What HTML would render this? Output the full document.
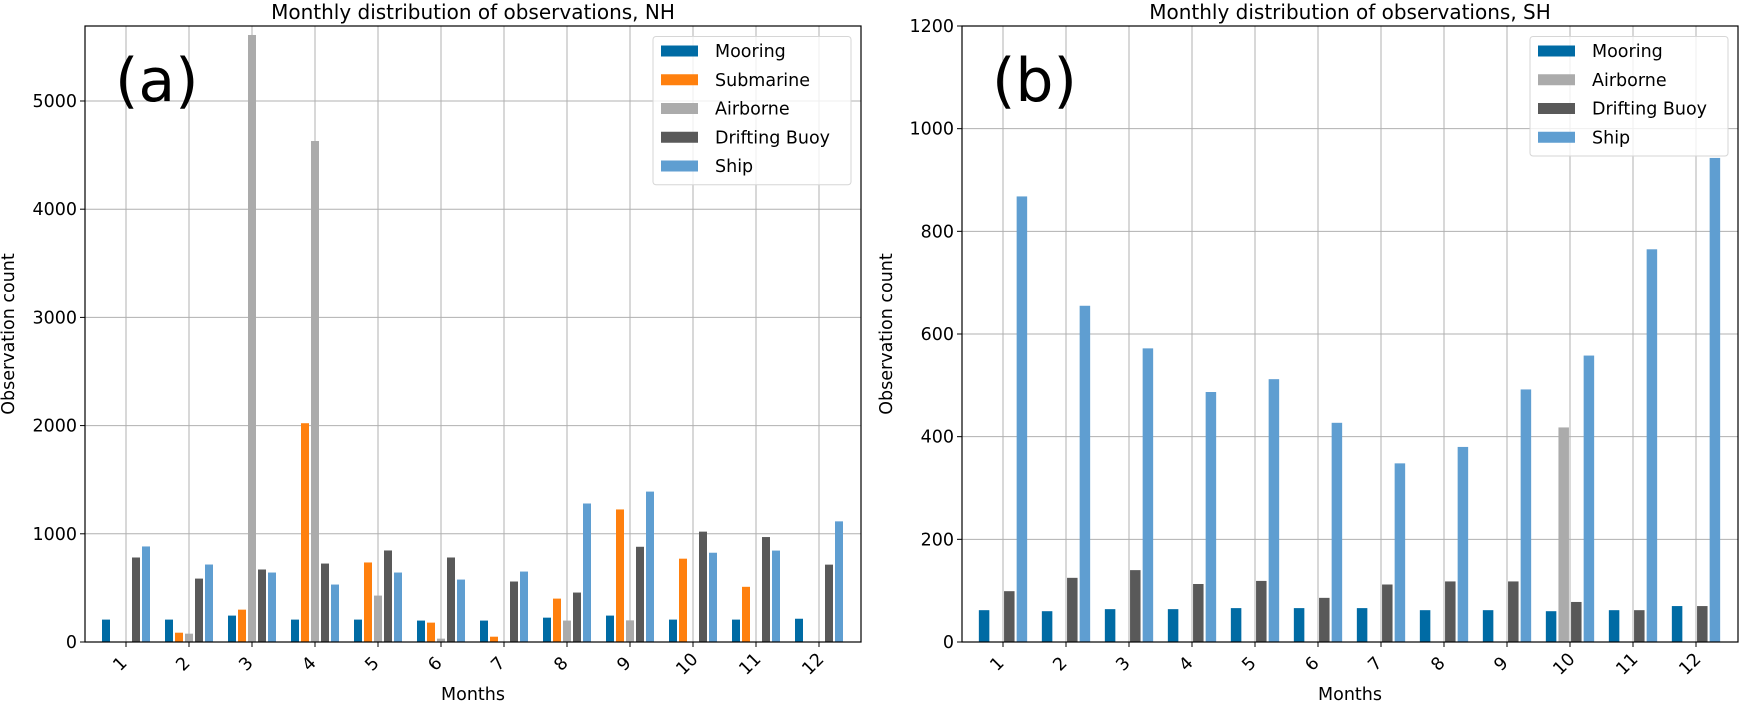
<!DOCTYPE html>
<html><head><meta charset="utf-8"><style>
html,body{margin:0;padding:0;background:#fff;}
svg{display:block;font-family:"DejaVu Sans","Liberation Sans",sans-serif;}
</style></head><body>
<svg id="chart" width="1740" height="704" viewBox="0 0 1740 704" xmlns="http://www.w3.org/2000/svg"></svg>
<script>
const months = [1,2,3,4,5,6,7,8,9,10,11,12];
const nhSeries = ["Mooring","Submarine","Airborne","Drifting Buoy","Ship"];
const nhMooring = [207,207,244,207,207,198,198,225,244,207,207,215];
const nhSubmarine = [0,86,299,2022,735,179,49,401,1225,770,510,0];
const nhAirborne = [0,77,5610,4630,429,31,0,198,200,0,0,0];
const nhDrifting = [781,586,670,725,846,781,559,457,880,1020,970,715];
const nhShip = [883,716,642,531,642,577,651,1280,1390,825,845,1115];
const nhTicks = [0,1000,2000,3000,4000,5000];
const shSeries = ["Mooring","Airborne","Drifting Buoy","Ship"];
const shMooring = [62,60,64,64,66,66,66,62,62,60,62,70];
const shAirborne = [0,0,0,0,0,0,0,0,0,418,0,0];
const shDrifting = [99,125,140,113,119,86,112,118,118,78,62,70];
const shShip = [868,655,572,487,512,427,348,380,492,558,765,943];
const shTicks = [0,200,400,600,800,1000,1200];

const colors = {"Mooring":"#006ba4","Submarine":"#ff800e","Airborne":"#ababab","Drifting Buoy":"#595959","Ship":"#5f9ed1"};
const NS="http://www.w3.org/2000/svg";
const svg=document.getElementById('chart');
function mk(tag,attrs,parent){const e=document.createElementNS(NS,tag);for(const k in attrs)e.setAttribute(k,attrs[k]);(parent||svg).appendChild(e);return e;}

function panel(cfg){
  const g=mk('g',{});
  
  
  const x0=cfg.x0,x1=cfg.x1,yTop=26,yBot=642;
  const yScale=v=>yBot-(v/cfg.ymax)*(yBot-yTop);
  const xScale=m=>x0+41+(m-1)*63;
  cfg.ticks.forEach(t=>{const y=yScale(t);
    const l=mk('line',{x1:x0,x2:x1,y1:y,y2:y,stroke:'#b0b0b0','stroke-width':1},g);
    
    mk('line',{x1:x0-5,x2:x0,y1:y,y2:y,stroke:'#000','stroke-width':1},g);
    const tx=mk('text',{x:x0-8,y:y+6,'text-anchor':'end','font-size':17.5,fill:'#000'},g);
    tx.textContent=t;
  });
  months.forEach(m=>{const x=xScale(m);
    const l=mk('line',{x1:x,x2:x,y1:yTop,y2:yBot,stroke:'#b0b0b0','stroke-width':1},g);
    
    mk('line',{x1:x,x2:x,y1:yBot,y2:yBot+5,stroke:'#000','stroke-width':1},g);
    const tx=mk('text',{x:0,y:0,'text-anchor':'middle','font-size':17.5,fill:'#000',transform:`translate(${x-2},${yBot+26}) rotate(-45)`},g);
    tx.textContent=m;
  });
  const n=cfg.series.length, step=cfg.step, bw=cfg.bw;
  cfg.series.forEach((s,i)=>{
    cfg.values[i].forEach((v,j)=>{
      if(v<=0) return;
      const cx=xScale(months[j])+(i-(n-1)/2)*step;
      const r=mk('rect',{x:cx-bw/2,y:yScale(v),width:bw,height:yBot-yScale(v),fill:colors[s]},g);
      
      
    });
  });
  const fr=mk('rect',{x:x0,y:yTop,width:x1-x0,height:yBot-yTop,fill:'none',stroke:'#000','stroke-width':1.2},g);
  
  const ti=mk('text',{x:(x0+x1)/2,y:19,'text-anchor':'middle','font-size':20,fill:'#000'},g);
  ti.textContent=cfg.title;
  const xl=mk('text',{x:(x0+x1)/2,y:700,'text-anchor':'middle','font-size':17.5,fill:'#000'},g);
  xl.textContent='Months';
  const yl=mk('text',{x:0,y:0,'text-anchor':'middle','font-size':17.5,fill:'#000',transform:`translate(${cfg.ylx},${(yTop+yBot)/2}) rotate(-90)`},g);
  yl.textContent='Observation count';
  const pl=mk('text',{x:x0+30,y:101,'font-size':60,fill:'#000'},g);
  pl.textContent=cfg.label;
  const lx=x1-208, lw=198, lh=cfg.series.length*28.75+4.5;
  const lg=mk('g',{},g);
  
  mk('rect',{x:lx,y:36.5,width:lw,height:lh,rx:3,fill:'#fff','fill-opacity':0.8,stroke:'#d6d6d6','stroke-width':1},lg);
  cfg.series.forEach((s,i)=>{const cy=51+i*28.75;
    const e=mk('g',{},lg);
    
    mk('rect',{x:lx+8,y:cy-5.5,width:37,height:11,fill:colors[s]},e);
    const t=mk('text',{x:lx+62,y:cy+6,'font-size':17.5,fill:'#000'},e);t.textContent=s;
  });
}
panel({name:'nh-panel',x0:85,x1:861,ymax:5693,ticks:nhTicks,series:nhSeries,
  values:[nhMooring,nhSubmarine,nhAirborne,nhDrifting,nhShip],step:10,bw:8,
  title:'Monthly distribution of observations, NH',label:'(a)',ylx:14});
panel({name:'sh-panel',x0:962,x1:1738,ymax:1200,ticks:shTicks,series:shSeries,
  values:[shMooring,shAirborne,shDrifting,shShip],step:12.6,bw:10.5,
  title:'Monthly distribution of observations, SH',label:'(b)',ylx:892});
</script>
</body></html>
